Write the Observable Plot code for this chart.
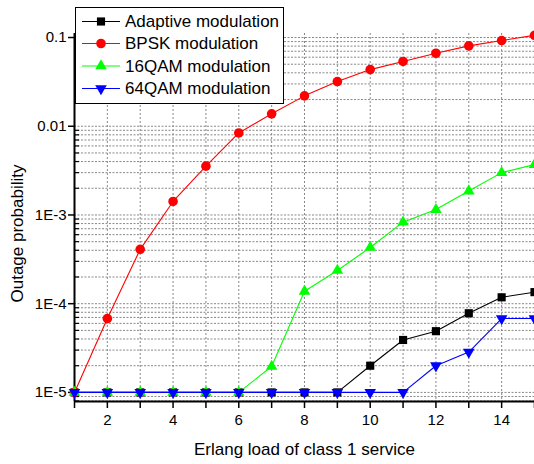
<!DOCTYPE html>
<html><head><meta charset="utf-8">
<script src="https://cdn.jsdelivr.net/npm/d3@7"></script>
<script src="https://cdn.jsdelivr.net/npm/@observablehq/plot@0.6"></script>
<style>
body{margin:0;background:#fff;font-family:"Liberation Sans",Arial,sans-serif;}
#wrap{position:relative;width:534px;height:464px;overflow:hidden;}
#legend{position:absolute;left:0;top:0;}
</style></head><body><div id="wrap"></div>
<script>
// ---- data ----
const loads = [1,2,3,4,5,6,7,8,9,10,11,12,13,14,15];
const seriesNames = ["Adaptive modulation","BPSK modulation","16QAM modulation","64QAM modulation"];
const seriesColors = ["#000000","#ff0000","#00ff00","#0000ff"];
const seriesSymbols = ["square","circle","triangle","triangle"];
const seriesRotate = [0,0,0,180];
const adaptive = [1e-5,1e-5,1e-5,1e-5,1e-5,1e-5,1e-5,1e-5,1e-5,2e-5,3.9e-5,4.9e-5,7.8e-5,1.18e-4,1.35e-4];
const bpsk = [1e-5,6.8e-5,4.1e-4,1.42e-3,3.55e-3,8.4e-3,0.0138,0.022,0.0319,0.0435,0.0537,0.0665,0.0805,0.0925,0.106];
const qam16 = [1e-5,1e-5,1e-5,1e-5,1e-5,1e-5,1.96e-5,1.38e-4,2.37e-4,4.3e-4,8.3e-4,1.15e-3,1.86e-3,3.0e-3,3.7e-3];
const qam64 = [1e-5,1e-5,1e-5,1e-5,1e-5,1e-5,1e-5,1e-5,1e-5,1e-5,1e-5,2e-5,2.85e-5,6.8e-5,6.8e-5];
const xLabelTicks = [2,4,6,8,10,12,14];
const yMajorTicks = [1e-5,1e-4,1e-3,0.01,0.1];
const yMajorLabels = ["1E-5","1E-4","1E-3","0.01","0.1"];
const xTitle = "Erlang load of class 1 service";
const yTitle = "Outage probability";

const allValues = [adaptive,bpsk,qam16,qam64];
const xDomain = [1,15];
const yDomain = [7.9e-6,0.111];

const yMinor = [];
for (let e=-6;e<=-1;e++) for (let m=1;m<=9;m++){const v=m*Math.pow(10,e); if(v>=yDomain[0]&&v<=yDomain[1]) yMinor.push(+v.toPrecision(3));}
const yMinorOnly = yMinor.filter(v=>!yMajorTicks.some(t=>Math.abs(t-v)/t<1e-6));

const font = '"Liberation Sans",Arial,sans-serif';
const symR = s => s==="circle"?4.8:(s==="square"?4.6:4.3);
const seriesMarks = [];
allValues.forEach((vals,i)=>{
  const rows = loads.map((x,j)=>({x, y: vals[j]}));
  seriesMarks.push(Plot.line(rows,{x:"x",y:"y",stroke:seriesColors[i],strokeWidth:1.1}));
  seriesMarks.push(Plot.dot(rows,{x:"x",y:"y",fill:seriesColors[i],stroke:"none",symbol:seriesSymbols[i],r:symR(seriesSymbols[i]),rotate:seriesRotate[i]}));
});

const chart = Plot.plot({
  width:534, height:464,
  marginLeft:74, marginRight:0, marginTop:33, marginBottom:63,
  style:{fontFamily:font, fontSize:"15px", color:"#000", background:"#fff", overflow:"visible"},
  x:{domain:xDomain},
  y:{type:"log", domain:yDomain},
  marks:[
    Plot.gridX(loads,{stroke:"#888",strokeOpacity:1,strokeDasharray:"2,2"}),
    Plot.gridY(yMinor,{stroke:"#888",strokeOpacity:1,strokeDasharray:"2,1.5"}),
    Plot.axisX({ticks:loads,tickFormat:d=>xLabelTicks.includes(d)?String(d):"",tickSize:7,tickPadding:6,strokeWidth:1.5,fontSize:15,label:null}),
    Plot.axisY({ticks:yMajorTicks,tickFormat:(d)=>yMajorLabels[yMajorTicks.indexOf(d)],tickSize:6,tickPadding:2,strokeWidth:1.5,fontSize:15,label:null}),
    Plot.axisY({ticks:yMinorOnly,tickFormat:()=>"",tickSize:5,dx:5,strokeWidth:1.2,label:null}),
    Plot.ruleX([xDomain[0]],{stroke:"#000",strokeWidth:2}),
    Plot.ruleY([yDomain[0]],{stroke:"#000",strokeWidth:2}),
    ...seriesMarks,
    Plot.text([xTitle],{frameAnchor:"bottom",dy:48,text:d=>d,fontSize:17,lineAnchor:"middle",textAnchor:"middle"}),
    Plot.text([yTitle],{frameAnchor:"left",dx:-57,dy:16,rotate:-90,text:d=>d,fontSize:17,lineAnchor:"middle",textAnchor:"middle"})
  ]
});
const wrap = document.getElementById("wrap");
wrap.appendChild(chart);

// legend overlay
const lg = d3.select(wrap).append("svg").attr("id","legend").attr("width",534).attr("height",120);
lg.append("rect").attr("x",75.5).attr("y",7.5).attr("width",208).attr("height",96).attr("fill","#fff").attr("stroke","#000").attr("stroke-width",1);
const rowY = [21.5,43.5,66,88.5];
seriesNames.forEach((name,i)=>{
  const g = lg.append("g");
  g.append("line").attr("x1",82).attr("x2",120).attr("y1",rowY[i]).attr("y2",rowY[i]).attr("stroke",seriesColors[i]).attr("stroke-width",1.1);
  const typ = seriesSymbols[i]==="square"?d3.symbolSquare:(seriesSymbols[i]==="circle"?d3.symbolCircle:d3.symbolTriangle);
  const r = symR(seriesSymbols[i]);
  g.append("path").attr("d",d3.symbol(typ, r*r*Math.PI)()).attr("fill",seriesColors[i])
   .attr("transform",`translate(101,${rowY[i]}) rotate(${seriesRotate[i]})`);
  g.append("text").attr("x",125).attr("y",rowY[i]).attr("dy","0.35em").attr("font-size",17).attr("font-family",font).text(name);
});
</script></body></html>
